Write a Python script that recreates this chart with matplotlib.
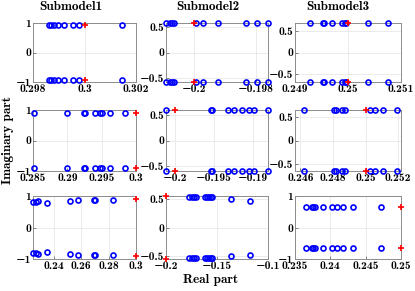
import matplotlib
matplotlib.use("Agg")
import matplotlib.pyplot as plt

plt.rcParams['font.family'] = ['cmb10', 'DejaVu Serif']
plt.rcParams['axes.unicode_minus'] = False
plt.rcParams['mathtext.fontset'] = 'cm'

# Eigenvalue data (blue = model poles, red = reference pole)
# real parts of blue circles, imaginary magnitude (conjugate pairs +/-)
s1_re = [0.29862, 0.29869, 0.29882, 0.29897, 0.2992, 0.29954, 0.29977, 0.30146]
s1_im = [0.93, 0.93, 0.93, 0.93, 0.93, 0.93, 0.93, 0.93]
s2_re = [-0.20088, -0.20075, -0.20068, -0.20064, -0.19993, -0.19969, -0.19922, -0.19832, -0.19797, -0.19763]
s2_im = [0.58, 0.58, 0.58, 0.58, 0.58, 0.58, 0.58, 0.58, 0.58, 0.58]
s3_re = [0.24928, 0.24953, 0.24954, 0.2497, 0.24989, 0.24994, 0.24997, 0.25038, 0.25075]
s3_im = [0.68, 0.68, 0.68, 0.68, 0.68, 0.68, 0.68, 0.68, 0.68]
s4_re = [0.2852, 0.29, 0.2924, 0.2926, 0.2941, 0.2948, 0.2951, 0.2962, 0.2984]
s4_im = [0.91, 0.91, 0.91, 0.91, 0.91, 0.91, 0.91, 0.91, 0.91]
s5_re = [-0.20109, -0.19542, -0.19525, -0.19324, -0.19239, -0.19147, -0.19055, -0.18988, -0.18812]
s5_im = [0.6, 0.6, 0.6, 0.6, 0.6, 0.6, 0.6, 0.6, 0.6]
s6_re = [0.24625, 0.24804, 0.24816, 0.24858, 0.24875, 0.25029, 0.25058, 0.25104, 0.25191]
s6_im = [0.66, 0.66, 0.66, 0.66, 0.66, 0.66, 0.66, 0.66, 0.66]
s7_re = [0.22495, 0.22728, 0.2282, 0.23484, 0.2518, 0.25745, 0.26919, 0.27018, 0.2829]
s7_im = [0.82, 0.82, 0.83, 0.79, 0.85, 0.87, 0.87, 0.87, 0.87]
s8_re = [-0.1772, -0.1747, -0.1728, -0.1709, -0.1614, -0.1595, -0.1576, -0.1557, -0.1545, -0.1367, -0.1177]
s8_im = [0.535, 0.545, 0.545, 0.545, 0.545, 0.535, 0.545, 0.545, 0.545, 0.5, 0.48]
s9_re = [0.23653, 0.23741, 0.2376, 0.23777, 0.23901, 0.24027, 0.24088, 0.24177, 0.2432, 0.24711]
s9_im = [0.65, 0.65, 0.65, 0.65, 0.65, 0.65, 0.65, 0.65, 0.65, 0.65]

red_re = [0.3, -0.2, 0.25, 0.3, -0.2, 0.25, 0.3, -0.2, 0.25]
red_im = [0.93, 0.58, 0.68, 0.91, 0.6, 0.66, 0.9, 0.56, 0.65]

blue_re = [s1_re, s2_re, s3_re, s4_re, s5_re, s6_re, s7_re, s8_re, s9_re]
blue_im = [s1_im, s2_im, s3_im, s4_im, s5_im, s6_im, s7_im, s8_im, s9_im]

xlims = [(0.298, 0.302), (-0.20088, -0.19762), (0.249, 0.251),
         (0.285, 0.3), (-0.20112, -0.18812), (0.24567, 0.25217),
         (0.2249, 0.3), (-0.2, -0.1), (0.235, 0.25)]
ylims = [1, 0.58, 0.68, 1, 0.6, 0.66, 1, 0.56, 1]
xticks = [[0.298, 0.3, 0.302], [-0.2, -0.198], [0.249, 0.25, 0.251],
          [0.285, 0.29, 0.295, 0.3], [-0.2, -0.195, -0.19], [0.246, 0.248, 0.25, 0.252],
          [0.24, 0.26, 0.28, 0.3], [-0.2, -0.15, -0.1], [0.235, 0.24, 0.245, 0.25]]
yticks = [[-1, 0, 1], [-0.5, 0, 0.5], [-0.5, 0, 0.5],
          [-1, 0, 1], [-0.5, 0, 0.5], [-0.5, 0, 0.5],
          [-1, 0, 1], [-0.5, 0, 0.5], [-1, 0, 1]]
titles = ['Submodel1', 'Submodel2', 'Submodel3']


def fmt(v):
    return ('%g' % v).replace('-', '\u2212')


# axes positions in pixels (left, right, top, bottom)
W, H = 415, 291
cols = [(33, 136), (166, 268), (295, 401)]
rows = [(23, 82), (110, 171), (196, 259)]

fig = plt.figure(figsize=(W / 100, H / 100), dpi=100)
for k in range(9):
    r, c = divmod(k, 3)
    l, rr = cols[c]
    t, b = rows[r]
    ax = fig.add_axes([l / W, 1 - b / H, (rr - l) / W, (b - t) / H])
    re = blue_re[k]
    im = blue_im[k]
    ax.plot(re + re, im + [-v for v in im], 'o', ls='none', mfc='none', mec='#0000ff',
            ms=3.6, mew=1.2, clip_on=False, zorder=3)
    ax.plot([red_re[k], red_re[k]], [red_im[k], -red_im[k]], '+', color='#ff0000',
            ms=4.5, mew=1.2, clip_on=False, zorder=4)
    ax.set_xlim(*xlims[k])
    ax.set_ylim(-ylims[k], ylims[k])
    ax.set_xticks(xticks[k])
    ax.set_xticklabels([fmt(v) for v in xticks[k]])
    ax.set_yticks(yticks[k])
    ax.set_yticklabels([fmt(v) for v in yticks[k]])
    ax.grid(True, color='#e3e3e3', lw=0.5)
    ax.set_axisbelow(True)
    ax.tick_params(direction='in', length=2, width=0.5, color='#555555',
                   labelsize=8.3, pad=1.2)
    for sp in ax.spines.values():
        sp.set_color('#8c8c8c')
        sp.set_linewidth(0.7)

title_x = [71, 208, 338]
for tx, name in zip(title_x, titles):
    fig.text(tx / W, 1 - 7.5 / H, name, ha='center', va='center', fontsize=9.5)
fig.text(8 / W, 1 - 140 / H, 'Imaginary part', rotation=90, ha='center', va='center', fontsize=9.5)
fig.text(211 / W, 1 - 280 / H, 'Real part', ha='center', va='center', fontsize=9.5)

fig.savefig('out.png', dpi=100)
